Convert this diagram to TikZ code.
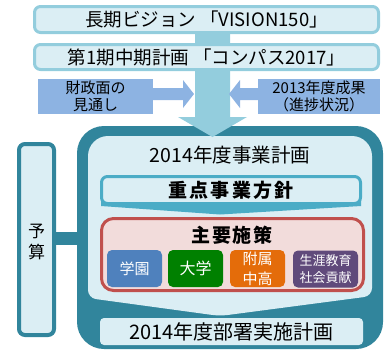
\documentclass[tikz,border=0pt]{standalone}
\usepackage{fontspec}
\setmainfont{Noto Sans CJK JP}
\definecolor{tealdark}{HTML}{31859C}
\definecolor{lightfill}{HTML}{DBEEF4}
\definecolor{aqua}{HTML}{93CDDD}
\definecolor{sideblue}{HTML}{8DB3E2}
\definecolor{jtblue}{HTML}{4BACC6}
\definecolor{redborder}{HTML}{C0504D}
\definecolor{pinkfill}{HTML}{F2DCDB}
\definecolor{gakuenc}{HTML}{4F81BD}
\definecolor{daigakuc}{HTML}{008000}
\definecolor{fuzokuc}{HTML}{E46C0A}
\definecolor{shogaic}{HTML}{604A7B}
\newcommand{\fsz}[1]{\fontsize{#1}{#1}\selectfont}
\begin{document}
\begin{tikzpicture}[x=1pt,y=-1pt,
  topbox/.style={draw=aqua, line width=3pt, fill=lightfill, rounded corners=6pt,
    minimum width=344pt, inner sep=0pt, font=\fsz{18.5}},
  sidebox/.style={fill=sideblue, minimum width=#1, minimum height=35pt, inner sep=0pt,
    align=center, font=\fontsize{15}{17.5}\selectfont},
  smallbox/.style={fill=#1, rounded corners=5pt, minimum height=37pt, inner sep=0pt,
    text=white, align=center},
  plain/.style={inner sep=0pt}
]
\useasboundingbox (0,0) rectangle (387,349);

% big outer box
\node[fill=tealdark, rounded corners=27pt, minimum width=306pt, minimum height=223pt, inner sep=0pt] (big) at (230,237.5) {};
% inner light region with downward chevron
\fill[lightfill, rounded corners=20pt] (230,136) -- (372,136) -- (372,240) [rounded corners=8pt] -- (372,296) -- (220,316) -- (88,298) -- (88,240) [rounded corners=20pt] -- (88,136) -- cycle;

% trunk arrow
\fill[aqua] (195,20) -- (195,117) -- (178,117) -- (212.5,137) -- (247,117) -- (230,117) -- (230,20) -- cycle;

% top boxes
\node[topbox, minimum height=26pt] (vision) at (206.5,19.5) {長期ビジョン 「VISION150」};
\node[topbox, minimum height=25pt] (compass) at (206.5,57) {第1期中期計画 「コンパス2017」};

% side boxes and arrows
\node[sidebox=115pt] (zaisei) at (95.5,96.5) {財政面の\\見通し};
\node[sidebox=122pt] (seika) at (319,96.5) {2013年度成果\\（進捗状況）};
\fill[sideblue] (zaisei.east |- 0,88) -- (183,88) -- (183,80) -- (194,94) -- (183,108) -- (183,100) -- (zaisei.east |- 0,100) -- cycle;
\fill[sideblue] (seika.west |- 0,88) -- (240,88) -- (240,80) -- (229,94) -- (240,108) -- (240,100) -- (seika.west |- 0,100) -- cycle;

% budget box and connector
\node[draw=tealdark, line width=4pt, fill=lightfill, rounded corners=6pt, minimum width=35pt, minimum height=191pt, inner sep=0pt] (yosan) at (36.5,239.5) {};
\node[plain, font=\fsz{17}] (yo) at (36.5,231) {予};
\node[plain, font=\fsz{17}] (san) at (36.5,252) {算};
\draw[tealdark, line width=13pt] (yosan.east |- 0,238.5) -- (big.west |- 0,238.5);

% title
\node[plain, font=\fsz{19.5}] (jigyo) at (230,155) {2014年度事業計画};

% focus box with chevron
\fill[jtblue] (101,200) -- (361,200) -- (361,206) -- (220,214.5) -- (101,206) -- cycle;
\node[draw=jtblue, line width=3pt, fill=lightfill, rounded corners=6pt, minimum width=259pt, minimum height=27pt, inner sep=0pt] (juten) at (231,190) {};
\node[plain, font=\bfseries\fsz{19}\addfontfeature{LetterSpace=12}] (jutentext) at (231,190.5) {重点事業方針};

% main measures box
\node[draw=redborder, line width=3pt, fill=pinkfill, rounded corners=12pt, minimum width=262pt, minimum height=72pt, inner sep=0pt] (shuyo) at (232.5,254.5) {};
\node[plain, font=\bfseries\fsz{19}\addfontfeature{LetterSpace=8}] (shuyotext) at (232,235) {主要施策};

\node[smallbox=gakuenc, minimum width=55pt, font=\fsz{15}] (gakuen) at (134.5,268.5) {学園};
\node[smallbox=daigakuc, minimum width=55pt, font=\fsz{16}] (daigaku) at (195.5,268.5) {大学};
\node[smallbox=fuzokuc, minimum width=55pt, font=\fontsize{15}{20}\selectfont] (fuzoku) at (257.5,268.5) {附属\\中高};
\node[smallbox=shogaic, minimum width=65pt, font=\fontsize{13}{16.5}\selectfont] (shogai) at (325.5,269) {生涯教育\\社会貢献};

% bottom box
\node[fill=lightfill, rounded corners=4pt, minimum width=263pt, minimum height=27pt, inner sep=0pt, font=\fsz{20}] (busho) at (231.5,331.5) {2014年度部署実施計画};
\end{tikzpicture}
\end{document}
